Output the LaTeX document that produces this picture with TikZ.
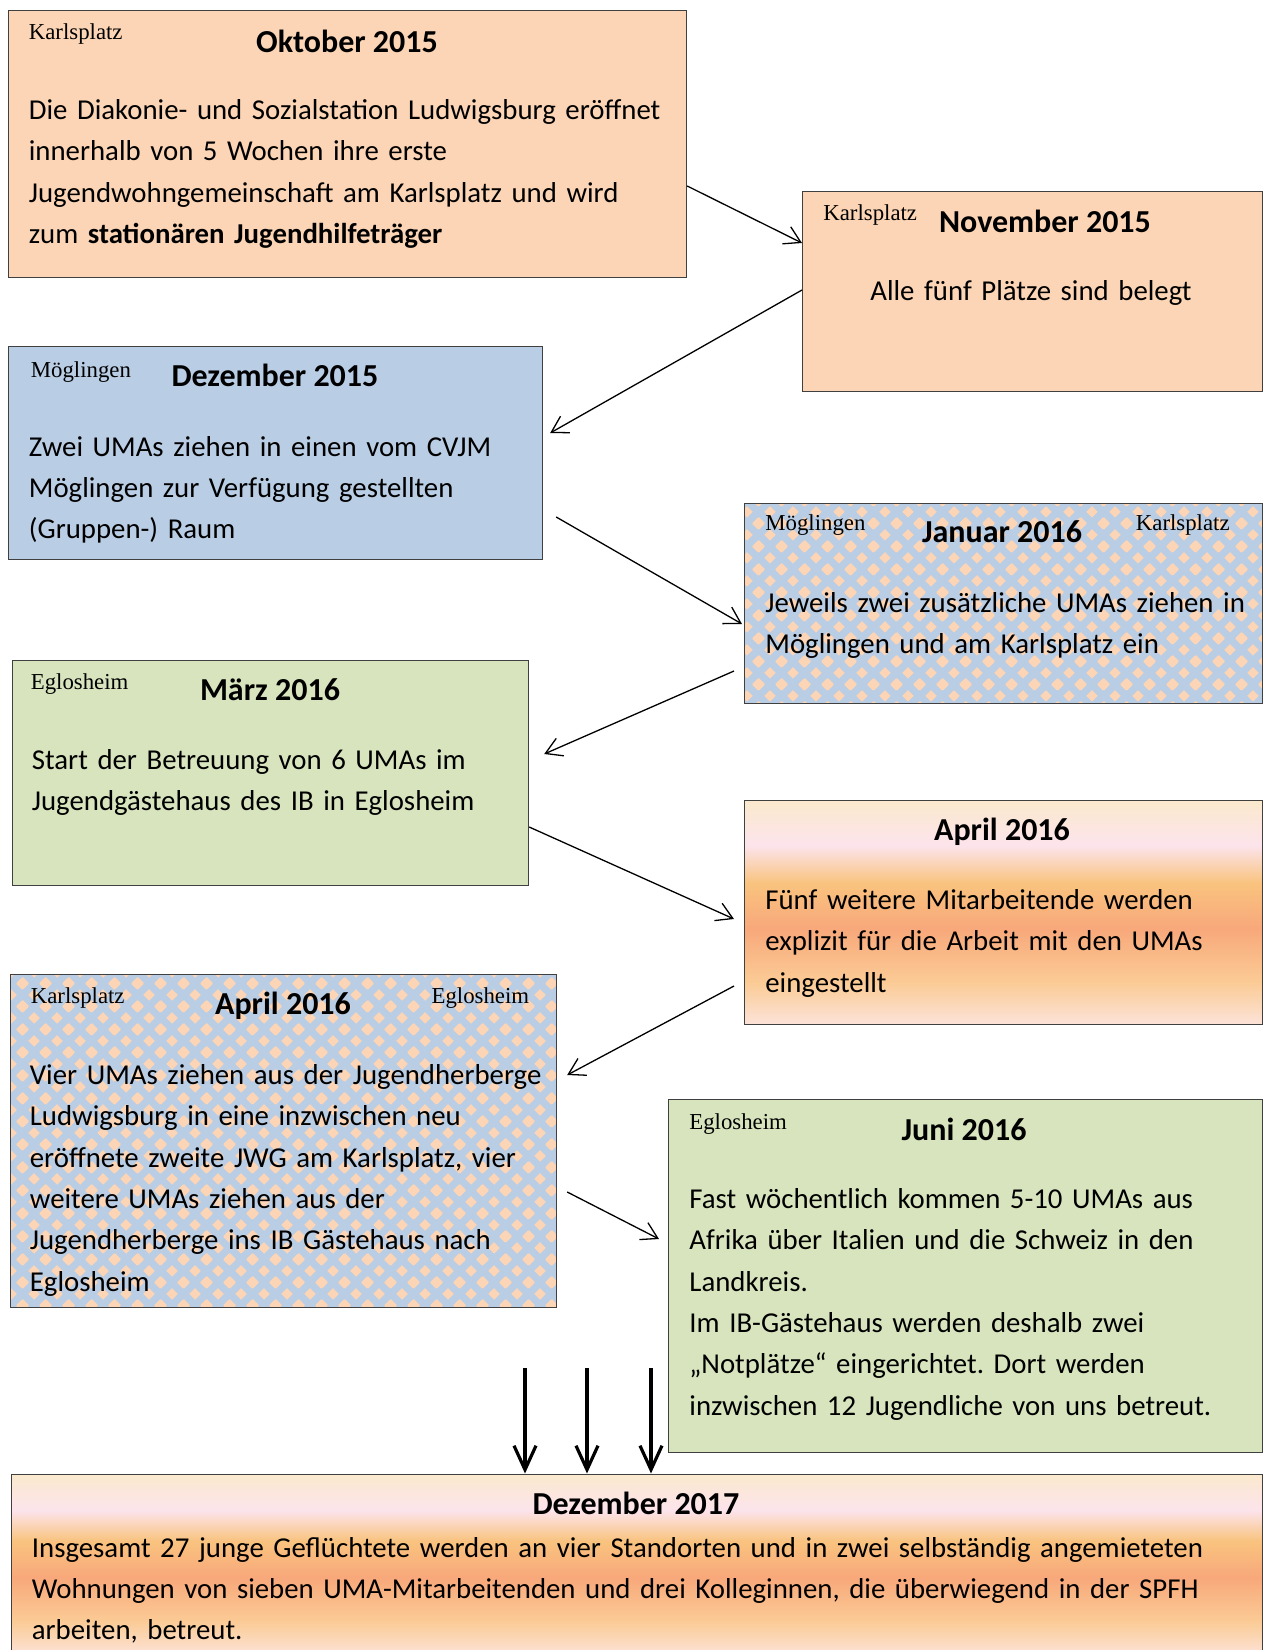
\documentclass[tikz,border=0pt]{standalone}
\usepackage{fontspec}
\setmainfont{Carlito}
\newfontfamily\ortfont{Liberation Serif}
\usetikzlibrary{arrows.meta}
\usetikzlibrary{calc,positioning}
\usetikzlibrary{patterns}
\frenchspacing

\definecolor{pfirsich}{HTML}{FBD5B5}
\definecolor{hellblau}{HTML}{B9CDE5}
\definecolor{hellgruen}{HTML}{D7E4BD}
\definecolor{rand}{HTML}{404040}
\definecolor{goben}{HTML}{FBE9CD}
\definecolor{grosa}{HTML}{FCE4EC}
\definecolor{gorange}{HTML}{F9C37E}
\definecolor{glachs}{HTML}{F8A87B}
\definecolor{ghellorange}{HTML}{FBCB95}
\definecolor{gunten}{HTML}{FCE3D9}

% Verlauf wie in Word
\pgfdeclareverticalshading{abendrot}{100bp}{color(0bp)=(gunten); color(25bp)=(gunten);
  color(34.5bp)=(ghellorange); color(46.5bp)=(glachs); color(56.5bp)=(gorange);
  color(65bp)=(grosa); color(75bp)=(goben); color(100bp)=(goben)}

% Rautenmuster
\newcommand\raute[2]{%
  \pgfpathmoveto{\pgfpoint{#1pt+3pt}{#2pt}}%
  \pgfpathlineto{\pgfpoint{#1pt}{#2pt+3pt}}%
  \pgfpathlineto{\pgfpoint{#1pt-3pt}{#2pt}}%
  \pgfpathlineto{\pgfpoint{#1pt}{#2pt-3pt}}%
  \pgfpathclose}
\pgfdeclarepatternformonly{rauten}{\pgfqpoint{0pt}{0pt}}{\pgfqpoint{11.5pt}{11.5pt}}{\pgfqpoint{11.5pt}{11.5pt}}{%
  \raute{0}{0}\raute{11.5}{0}\raute{0}{11.5}\raute{11.5}{11.5}\raute{5.75}{5.75}%
  \pgfusepath{fill}}

\tikzset{
  kasten/.style={draw=rand, line width=0.6pt, inner sep=0pt, anchor=north west},
  muster/.style={preaction={fill=hellblau}, pattern=rauten, pattern color=pfirsich},
  verlauf/.style={shade, shading=abendrot},
  ort/.style={font=\ortfont\fontsize{11.4}{13}\selectfont, anchor=base west, inner sep=0pt},
  titel/.style={font=\bfseries\fontsize{16}{19}\selectfont, anchor=base, inner sep=0pt},
  inhalt/.style={font=\fontsize{14.4}{20.65}\selectfont, anchor=base west, inner sep=0pt,
    text width=600pt, align=left},
  pfeil/.style={line width=0.65pt, -{Straight Barb[length=8pt,width=9.5pt]}},
  dickpfeil/.style={line width=1.6pt, -{Straight Barb[length=12pt,width=11pt]}}
}

\begin{document}
\begin{tikzpicture}[x=0.5pt,y=-0.5pt]
\useasboundingbox (0,0) rectangle (1263,1650);

% Kaesten
\node[kasten, fill=pfirsich, minimum width=339pt, minimum height=133.75pt] (okt) at (8,9.5) {};
\node[kasten, fill=pfirsich, minimum width=229.75pt, minimum height=100pt] (nov) at (802,190.5) {};
\node[kasten, fill=hellblau, minimum width=267pt, minimum height=106.5pt] (dez15) at (8,346) {};
\node[kasten, muster, minimum width=258.75pt, minimum height=100pt] (jan) at (744,503) {};
\node[kasten, fill=hellgruen, minimum width=258.25pt, minimum height=112.5pt] (mar) at (11.5,660) {};
\node[kasten, verlauf, minimum width=258.75pt, minimum height=112pt] (aprA) at (744,800) {};
\node[kasten, muster, minimum width=273.25pt, minimum height=166.5pt] (aprB) at (9.5,974) {};
\node[kasten, fill=hellgruen, minimum width=296.75pt, minimum height=176.5pt] (jun) at (668,1099) {};
\node[kasten, verlauf, minimum width=625.5pt, minimum height=90.75pt] (dez17) at (10.5,1473.5) {};

% Oktober 2015
\node[ort] (okt-ort) at (28.5,39) {Karlsplatz};
\node[titel] (okt-titel) at (347,52) {Oktober 2015};
\node[inhalt] (okt-text) at (28.5,119.5) {Die Diakonie- und Sozialstation Ludwigsburg eröffnet\\
  innerhalb von 5 Wochen ihre erste\\ Jugendwohngemeinschaft am Karlsplatz und wird\\
  zum \textbf{stationären Jugendhilfeträger}};

% November 2015
\node[ort] (nov-ort) at (823,220) {Karlsplatz};
\node[titel] (nov-titel) at (1045,232) {November 2015};
\node[inhalt, anchor=base, align=center] (nov-text) at (1031,300.5) {Alle fünf Plätze sind belegt};

% Dezember 2015
\node[ort] (dez15-ort) at (30.5,377) {Möglingen};
\node[titel] (dez15-titel) at (275,386.5) {Dezember 2015};
\node[inhalt] (dez15-text) at (28.5,456) {Zwei UMAs ziehen in einen vom CVJM\\
  Möglingen zur Verfügung gestellten\\ (Gruppen-) Raum};

% Januar 2016
\node[ort] (jan-ort1) at (765,530) {Möglingen};
\node[ort, anchor=base east] (jan-ort2) at (1230,530) {Karlsplatz};
\node[titel] (jan-titel) at (1002,542.5) {Januar 2016};
\node[inhalt] (jan-text) at (765,612.5) {Jeweils zwei zusätzliche UMAs ziehen in\\
  Möglingen und am Karlsplatz ein};

% Maerz 2016
\node[ort] (mar-ort) at (30.5,689) {Eglosheim};
\node[titel] (mar-titel) at (270,700.5) {März 2016};
\node[inhalt] (mar-text) at (31.5,769.5) {Start der Betreuung von 6 UMAs im\\
  Jugendgästehaus des IB in Eglosheim};

% April 2016 (Mitarbeitende)
\node[titel] (aprA-titel) at (1002,840.5) {April 2016};
\node[inhalt] (aprA-text) at (765,909.5) {Fünf weitere Mitarbeitende werden\\
  explizit für die Arbeit mit den UMAs\\ eingestellt};

% April 2016 (Umzug)
\node[ort] (aprB-ort1) at (30.5,1003) {Karlsplatz};
\node[ort, anchor=base east] (aprB-ort2) at (529.5,1003) {Eglosheim};
\node[titel] (aprB-titel) at (283,1014) {April 2016};
\node[inhalt] (aprB-text) at (29.5,1084.5) {Vier UMAs ziehen aus der Jugendherberge\\
  Ludwigsburg in eine inzwischen neu\\ eröffnete zweite JWG am Karlsplatz, vier\\
  weitere UMAs ziehen aus der\\ Jugendherberge ins IB Gästehaus nach\\ Eglosheim};

% Juni 2016
\node[ort] (jun-ort) at (689,1129) {Eglosheim};
\node[titel] (jun-titel) at (964,1140.5) {Juni 2016};
\node[inhalt] (jun-text) at (689,1208.5) {Fast wöchentlich kommen 5-10 UMAs aus\\
  Afrika über Italien und die Schweiz in den\\ Landkreis.\\
  Im IB-Gästehaus werden deshalb zwei\\ „Notplätze“ eingerichtet. Dort werden\\
  inzwischen 12 Jugendliche von uns betreut.};

% Dezember 2017
\node[titel] (dez17-titel) at (636,1514.5) {Dezember 2017};
\node[inhalt, text width=620pt] (dez17-text) at (31.5,1557) {Insgesamt 27 junge Geflüchtete werden an vier Standorten und in zwei selbständig angemieteten\\
  Wohnungen von sieben UMA-Mitarbeitenden und drei Kolleginnen, die überwiegend in der SPFH\\
  arbeiten, betreut.};

% Pfeile
\draw[pfeil] ($(okt.north east)+(0,176.5)$) -- ($(nov.north west)+(0,52.5)$);
\draw[pfeil] ($(nov.north west)+(0,99.5)$) -- ($(dez15.north east)+(7,87)$);
\draw[pfeil] ($(dez15.north east)+(13,171)$) -- ($(jan.north west)+(-2,121)$);
\draw[pfeil] ($(jan.north west)+(-10,168)$) -- ($(mar.north east)+(15,94)$);
\draw[pfeil] ($(mar.north east)+(0,167)$) -- ($(aprA.north west)+(-10,119)$);
\draw[pfeil] ($(aprA.north west)+(-10,186)$) -- ($(aprB.north east)+(10,101)$);
\draw[pfeil] ($(aprB.north east)+(10,218)$) -- ($(jun.north west)+(-9,140)$);

\foreach \x [count=\i] in {525,587,651} {
  \coordinate (start\i) at (\x,1368);
  \draw[dickpfeil] (start\i) -- (start\i |- dez17.north);
}
\end{tikzpicture}
\end{document}
